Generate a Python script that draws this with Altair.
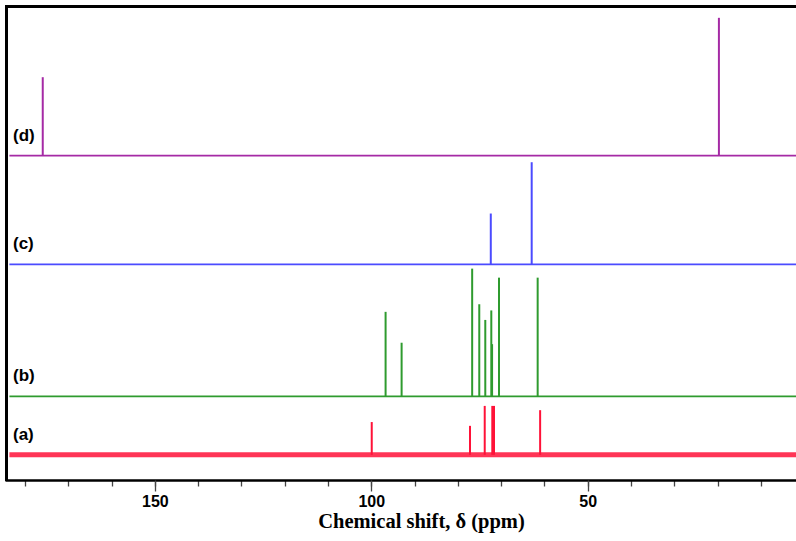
import altair as alt
import pandas as pd

# ---- data ----
series = ["(a)", "(b)", "(c)", "(d)"]
colors = ["#ff1238", "#2f9b2f", "#4b4bff", "#a52aa5"]
offsets = [5.3, 17.6, 45.4, 68.3]          # stacked baseline level of each spectrum
spectrum_window = [183.6, 1.43]              # recorded spectral range (left, right)
axis_window = [184.62, 1.43]                 # plotted ppm range (left, right)

a_ppm = [99.9, 77.2, 73.8, 72.05, 71.66, 61.0]
a_int = [6.9, 6.1, 10.3, 10.3, 10.3, 9.4]
b_ppm = [96.7, 93.0, 76.7, 75.06, 73.67, 72.28, 72.1, 70.5, 61.57]
b_int = [17.8, 11.3, 26.9, 19.4, 16.1, 18.1, 11.0, 25.0, 25.0]
c_ppm = [72.4, 62.95]
c_int = [10.7, 21.5]
d_ppm = [175.9, 19.7]
d_int = [16.5, 29.0]

minor_ticks = list(range(180, 0, -10))
major_ticks = [150, 100, 50]

# ---- tables ----
rows = []
for name, off, pp, ii in zip(series, offsets, [a_ppm, b_ppm, c_ppm, d_ppm], [a_int, b_int, c_int, d_int]):
    for p, i in zip(pp, ii):
        rows.append({"series": name, "ppm": p, "base": off, "top": off + i})
peaks = pd.DataFrame(rows)
base = pd.DataFrame({"series": series, "offset": offsets,
                     "start": spectrum_window[0], "end": spectrum_window[1]})

xscale = alt.Scale(domain=[axis_window[1], axis_window[0]], reverse=True, nice=False, zero=False)
yscale = alt.Scale(domain=[0, 100], nice=False, zero=False)
color = alt.Color("series:N", scale=alt.Scale(domain=series, range=colors), legend=None)

minor_axis = alt.Axis(orient="bottom", values=minor_ticks, tickSize=6, tickWidth=1.3,
                      tickColor="#444", labels=False, title="", domain=True,
                      domainWidth=2.7, domainColor="black", grid=False)
major_axis = alt.Axis(orient="bottom", values=major_ticks, tickSize=11, tickWidth=1.3,
                      tickColor="#444", labels=True, labelFont="Liberation Sans",
                      labelFontWeight="bold", labelFontSize=16, labelPadding=2,
                      labelColor="black", title="Chemical shift, δ (ppm)",
                      titleFont="Liberation Serif", titleFontWeight="bold",
                      titleFontSize=20.5, titleColor="black", titleX=416, titleY=47,
                      titleAlign="center", titleBaseline="alphabetic",
                      domain=False, grid=False)

y_off = alt.Y("offset:Q", scale=yscale, axis=None)

base_bcd = alt.Chart(base).transform_filter("datum.series != '(a)'").mark_rule(strokeWidth=1.8).encode(
    x=alt.X("start:Q", scale=xscale, axis=minor_axis),
    x2="end:Q",
    y=y_off,
    color=color,
)
base_a = alt.Chart(base).transform_filter("datum.series == '(a)'").mark_rule(strokeWidth=5, opacity=0.85).encode(
    x=alt.X("start:Q", scale=xscale, axis=None),
    x2="end:Q",
    y=y_off,
    color=color,
)
peak_layer = alt.Chart(peaks).mark_rule(strokeWidth=2).encode(
    x=alt.X("ppm:Q", scale=xscale, axis=major_axis),
    y=alt.Y("base:Q", scale=yscale, axis=None),
    y2="top:Q",
    color=color,
)
labels = alt.Chart(base).mark_text(align="left", baseline="middle", dy=-20,
                                   font="Liberation Sans", fontWeight="bold",
                                   fontSize=17, color="black").encode(
    x=alt.value(8),
    y=y_off,
    text="series:N",
)
# plot frame (left and top edges), drawn just inside the plot area
frame_left = alt.Chart(base).mark_rule(color="black", strokeWidth=3).encode(
    x=alt.value(1.5), y=alt.value(0), y2=alt.value(476)
)
frame_top = alt.Chart(base).mark_rule(color="black", strokeWidth=3).encode(
    x=alt.value(0), x2=alt.value(793), y=alt.value(1.5)
)

chart = alt.layer(base_bcd, base_a, peak_layer, labels, frame_left, frame_top).resolve_axis(
    x="independent"
).properties(
    width=793, height=475,
    padding={"left": 5, "top": 5, "right": -2, "bottom": 61},
    autosize=alt.AutoSizeParams(type="none"),
    background="white",
).configure_view(stroke=None)

chart.save("out.html", embed_options={"renderer": "svg", "actions": False})
